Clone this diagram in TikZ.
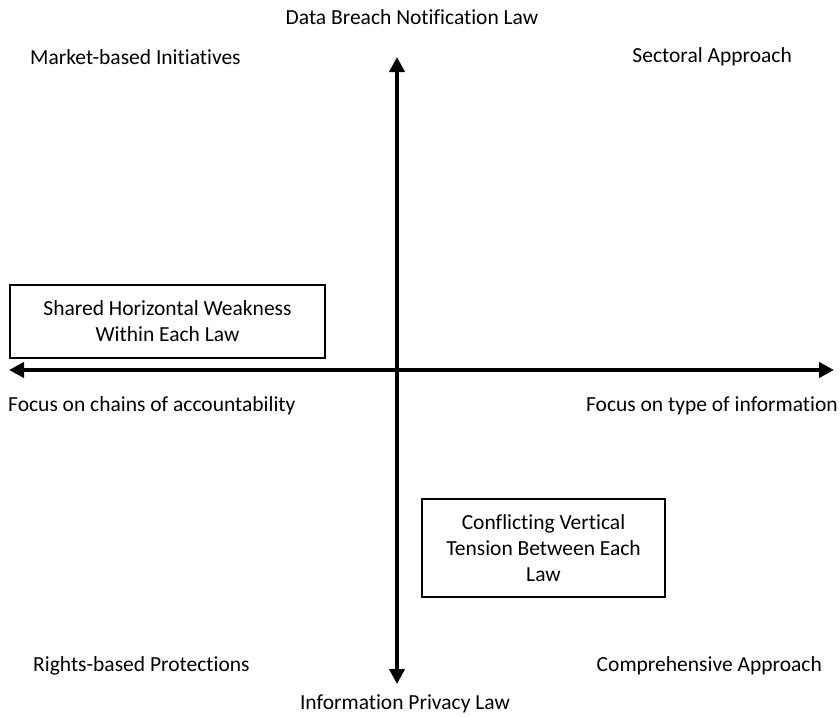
\documentclass[tikz,border=0pt]{standalone}
\usepackage{fontspec}
\setmainfont[Ligatures={NoCommon}]{Carlito}
\usepackage{tikz}
\usetikzlibrary{arrows.meta}
\usetikzlibrary{calc}

\begin{document}
\begin{tikzpicture}[x=1pt, y=-1pt,
        label_style/.style={inner sep=0pt, font=\fontsize{21.5}{26}\selectfont},
        box_style/.style={draw=black, line width=2pt, align=center, inner sep=0pt,
                font=\fontsize{21.5}{26}\selectfont},
        axis_style/.style={draw=black, line width=4pt,
                {Triangle[length=15pt,width=15pt]}-{Triangle[length=15pt,width=15pt]}}]

        \useasboundingbox (0,0) rectangle (840,716);

        % axis ends
        \coordinate (top) at (397,57);
        \coordinate (bottom) at (397,684);
        \coordinate (left) at (9,370);
        \coordinate (right) at (834,370);

        % labels
        \node [label_style](dbn) at (412,17) {Data Breach Notification Law};
        \node [label_style](ipl) at (405,704) {Information Privacy Law};
        \node [label_style, anchor=west](mbi) at (30,57) {Market-based Initiatives};
        \node [label_style, anchor=east](sa) at (792,57) {Sectoral Approach};
        \node [label_style, anchor=west](chains) at (8,406) {Focus on chains of accountability};
        \node [label_style, anchor=east](type) at (838,406) {Focus on type of information};
        \node [label_style, anchor=west](rbp) at (33,666) {Rights-based Protections};
        \node [label_style, anchor=east](ca) at (822,666) {Comprehensive Approach};

        % boxes
        \node [box_style, minimum width=315pt, minimum height=73pt](shared) at (167.5,321.5)
                {Shared Horizontal Weakness\\Within Each Law};
        \node [box_style, minimum width=243pt, minimum height=98pt](conflict) at (543.5,548)
                {Conflicting Vertical\\Tension Between Each\\Law};

        % axes
        \draw [axis_style] (bottom) -- (top);
        \draw [axis_style] (left) -- (right);
\end{tikzpicture}
\end{document}
